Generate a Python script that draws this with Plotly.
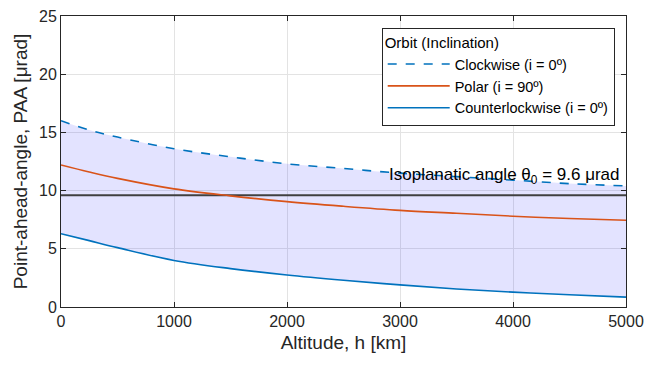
import plotly.graph_objects as go

altitude = [0, 250, 500, 1000, 1500, 2000, 2500, 3000, 3500, 4000, 4500, 5000]
clockwise = [16.0, 15.2, 14.6, 13.6, 12.9, 12.3, 11.9, 11.5, 11.2, 10.9, 10.6, 10.4]
polar = [12.2, 11.6, 11.05, 10.15, 9.55, 9.05, 8.65, 8.3, 8.05, 7.8, 7.6, 7.45]
counter = [6.3, 5.7, 5.1, 4.0, 3.3, 2.75, 2.3, 1.9, 1.55, 1.28, 1.05, 0.85]
theta0 = 9.6

FONT = "Liberation Sans, Arial, sans-serif"
blue = "#0072BD"
red = "#D95319"

fig = go.Figure()
# shaded region between counterclockwise and clockwise
fig.add_trace(go.Scatter(x=altitude, y=counter, mode="lines", line=dict(width=0),
                         showlegend=False, hoverinfo="skip", line_shape="spline"))
fig.add_trace(go.Scatter(x=altitude, y=clockwise, mode="lines", line=dict(width=0),
                         fill="tonexty", fillcolor="rgba(0,0,255,0.11)",
                         showlegend=False, hoverinfo="skip", line_shape="spline"))
# isoplanatic line
fig.add_trace(go.Scatter(x=[altitude[0], altitude[-1]], y=[theta0, theta0], mode="lines",
                         line=dict(color="#404040", width=2.2), showlegend=False))
fig.add_trace(go.Scatter(x=altitude, y=clockwise, mode="lines", name="Clockwise (i = 0º)",
                         line=dict(color=blue, width=1.6, dash="dash"), line_shape="spline"))
fig.add_trace(go.Scatter(x=altitude, y=polar, mode="lines", name="Polar (i = 90º)",
                         line=dict(color=red, width=1.6), line_shape="spline"))
fig.add_trace(go.Scatter(x=altitude, y=counter, mode="lines", name="Counterlockwise (i = 0º)",
                         line=dict(color=blue, width=1.6), line_shape="spline"))

fig.add_annotation(x=4965, y=theta0, xref="x", yref="y", xanchor="right", yanchor="bottom",
                   yshift=6, showarrow=False,
                   text=f"Isoplanatic angle θ<sub>0</sub> = {theta0} μrad",
                   font=dict(family=FONT, size=17, color="black"))

axis_common = dict(showline=True, linecolor="#262626", linewidth=1, mirror="ticks",
                   ticks="inside", ticklen=5, tickcolor="#262626",
                   showgrid=True, gridcolor="#E3E3E3", gridwidth=1, zeroline=False,
                   tickfont=dict(family=FONT, size=16, color="#262626"))

fig.update_xaxes(range=[0, 5000], tickvals=[0, 1000, 2000, 3000, 4000, 5000],
                 title=dict(text="Altitude, h [km]", font=dict(family=FONT, size=19, color="#262626"),
                            standoff=6), **axis_common)
fig.update_yaxes(range=[0, 25], tickvals=[0, 5, 10, 15, 20, 25],
                 title=dict(text="Point-ahead-angle, PAA [μrad]", font=dict(family=FONT, size=19, color="#262626"),
                            standoff=6), **axis_common)

fig.update_layout(
    width=652, height=368,
    margin=dict(l=61, r=22, t=8, b=61),
    plot_bgcolor="white", paper_bgcolor="white",
    font=dict(family=FONT, color="#262626"),
    legend=dict(x=0.98, y=0.96, xanchor="right", yanchor="top", traceorder="normal",
                bgcolor="white", bordercolor="#262626", borderwidth=1,
                title=dict(text="Orbit (Inclination)", font=dict(family=FONT, size=15, color="black")),
                font=dict(family=FONT, size=14.5, color="black"),
                tracegroupgap=0, itemwidth=62),
)

fig.write_html("out.html")
